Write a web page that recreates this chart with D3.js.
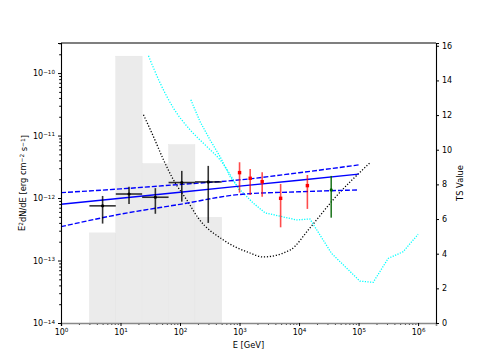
<!DOCTYPE html>
<html>
<head>
<meta charset="utf-8">
<script src="https://cdn.jsdelivr.net/npm/d3@7"></script>
<style>
  body { margin: 0; background: #fff; }
  text { font-family: "DejaVu Sans", sans-serif; fill: #000; }
</style>
</head>
<body>
<div id="container"></div>
<script>
// TS histogram (right axis), bin edges in GeV
var tsEdges = [3, 8.33, 23.1, 64.2, 178, 500];
var tsValues = [5.2, 15.4, 9.2, 10.3, 6.1];

// black points (binned spectrum), x error = bin edges
var latE = [5.0, 13.9, 38.5, 107, 298];
var latFlux = [7.5e-13, 1.16e-12, 1.03e-12, 1.77e-12, 1.81e-12];
var latHi = [1.08e-12, 1.52e-12, 1.44e-12, 2.72e-12, 3.27e-12];
var latLo = [3.9e-13, 8.0e-13, 5.6e-13, 8.75e-13, 4.0e-13];

// red points
var redE = [1000, 1510, 2400, 4900, 13800];
var redFlux = [2.55e-12, 2.07e-12, 1.83e-12, 9.9e-13, 1.58e-12];
var redHi = [3.74e-12, 2.92e-12, 2.59e-12, 1.68e-12, 2.34e-12];
var redLo = [1.22e-12, 1.12e-12, 1.05e-12, 3.4e-13, 6.7e-13];

// green point
var greenE = [34700];
var greenFlux = [1.35e-12];
var greenHi = [2.26e-12];
var greenLo = [4.85e-13];

// power-law fit and its band
var fitE = [1, 10, 100, 1e3, 1e4, 1e5];
var fitFlux = [7.96e-13, 9.93e-13, 1.24e-12, 1.55e-12, 1.93e-12, 2.41e-12];
var fitUpper = [1.22e-12, 1.4e-12, 1.65e-12, 1.95e-12, 2.54e-12, 3.39e-12];
var fitLower = [3.48e-13, 5.52e-13, 7.93e-13, 1.14e-12, 1.26e-12, 1.35e-12];

// black dotted curve
var blackE = [24.3, 35.8, 52.8, 77.6, 130, 204, 535, 1500, 2480, 7030, 15200, 37100, 155000];
var blackFlux = [2.15e-11, 9.6e-12, 4.08e-12, 1.95e-12, 9.3e-13, 4.74e-13, 2.13e-13, 1.32e-13, 1.14e-13, 1.47e-13, 3.32e-13, 9.3e-13, 3.66e-12];

// cyan curves
var cyanAE = [29.5, 46.4, 77.5, 148, 282, 471, 1020];
var cyanAFlux = [1.89e-10, 6.9e-11, 2.75e-11, 1.23e-11, 6.67e-12, 4.08e-12, 1.27e-12];
var cyanBE = [152, 217, 320, 471, 693, 1020, 1700, 2680, 9120, 15200, 35200, 105000, 176000, 314000, 560000, 1.0e6];
var cyanBFlux = [3.73e-11, 1.67e-11, 8.5e-12, 4.6e-12, 2.2e-12, 1.35e-12, 8.3e-13, 5.8e-13, 4.46e-13, 4.62e-13, 1.3e-13, 4.69e-14, 4.47e-14, 1.08e-13, 1.38e-13, 2.63e-13];

var xTicks = [1, 10, 100, 1e3, 1e4, 1e5, 1e6];
var yTicks = [1e-14, 1e-13, 1e-12, 1e-11, 1e-10];
var tsTicks = [0, 2, 4, 6, 8, 10, 12, 14, 16];

// set the dimensions and margins of the graph
var margin = { top: 43, right: 49, bottom: 40, left: 61 },
  width = 485 - margin.left - margin.right,
  height = 363 - margin.top - margin.bottom;

var svg = d3
  .select("#container")
  .append("svg")
  .attr("width", width + margin.left + margin.right)
  .attr("height", height + margin.top + margin.bottom)
  .append("g")
  .attr("transform", "translate(" + margin.left + "," + margin.top + ")");

var x = d3.scaleLog().domain([1, 2.0e6]).range([0, width]);
var y = d3.scaleLog().domain([1e-14, 3.03e-10]).range([height, 0]);
var ts = d3.scaleLinear().domain([0, 16.16]).range([height, 0]);

// TS bars
svg
  .selectAll(".tsbar")
  .data(tsValues)
  .enter()
  .append("rect")
  .attr("x", function (d, i) { return x(tsEdges[i]); })
  .attr("width", function (d, i) { return x(tsEdges[i + 1]) - x(tsEdges[i]); })
  .attr("y", function (d) { return ts(d); })
  .attr("height", function (d) { return height - ts(d); })
  .attr("fill", "#ebebeb")
  .attr("stroke", "#e4e4e4")
  .attr("stroke-width", 0.4);

var line = d3
  .line()
  .x(function (d) { return x(d[0]); })
  .y(function (d) { return y(d[1]); });

function pairs(a, b) {
  return a.map(function (v, i) { return [v, b[i]]; });
}

function drawCurve(e, f, color, dash, w, curve) {
  svg
    .append("path")
    .datum(pairs(e, f))
    .attr("fill", "none")
    .attr("stroke", color)
    .attr("stroke-width", w)
    .attr("stroke-dasharray", dash)
    .attr("d", line.curve(curve || d3.curveLinear));
}

drawCurve(blackE, blackFlux, "#000", "1.2,1.8", 1.3, d3.curveMonotoneX);
drawCurve(cyanAE, cyanAFlux, "#00ffff", "1.2,1.6", 1.3, d3.curveMonotoneX);
drawCurve(cyanBE, cyanBFlux, "#00ffff", "1.2,1.4", 1.3);

// fit line and band
drawCurve(fitE, fitUpper, "#0000ff", "5,2", 1.4, d3.curveMonotoneX);
drawCurve(fitE, fitLower, "#0000ff", "5,2", 1.4, d3.curveMonotoneX);
drawCurve(fitE, fitFlux, "#0000ff", null, 1.4);

// error bar points
function drawPoints(e, f, hi, lo, color, opacity, marker, xlo, xhi) {
  var g = svg.append("g");
  e.forEach(function (v, i) {
    g.append("line")
      .attr("x1", x(v)).attr("x2", x(v))
      .attr("y1", y(hi[i])).attr("y2", y(lo[i]))
      .attr("stroke", color)
      .attr("stroke-opacity", opacity)
      .attr("stroke-width", 1.6);
    if (xlo) {
      g.append("line")
        .attr("x1", x(xlo[i])).attr("x2", x(xhi[i]))
        .attr("y1", y(f[i])).attr("y2", y(f[i]))
        .attr("stroke", color)
        .attr("stroke-opacity", opacity)
        .attr("stroke-width", 1.6);
    }
    if (marker == "square") {
      g.append("rect")
        .attr("x", x(v) - 1.7).attr("y", y(f[i]) - 1.7)
        .attr("width", 3.4).attr("height", 3.4)
        .attr("fill", color);
    } else {
      g.append("circle")
        .attr("cx", x(v)).attr("cy", y(f[i]))
        .attr("r", 1.6)
        .attr("fill", color);
    }
  });
}

drawPoints(latE, latFlux, latHi, latLo, "#000", 0.8, "dot", tsEdges.slice(0, 5), tsEdges.slice(1));
drawPoints(redE, redFlux, redHi, redLo, "#ff0000", 0.7, "square");
drawPoints(greenE, greenFlux, greenHi, greenLo, "#006400", 0.85, "dot");

// superscript labels like 10^-12
function powLabel(sel, exp) {
  sel.text("");
  sel.append("tspan").text("10");
  sel.append("tspan")
    .attr("dy", "-0.45em")
    .attr("font-size", "5.6px")
    .text(String(exp).replace("-", "\u2212"));
}

// bottom x axis
var xMinor = [];
for (var p = 0; p < 7; p++) {
  for (var k = 2; k < 10; k++) {
    var v = k * Math.pow(10, p);
    if (v < 2.0e6) xMinor.push(v);
  }
}
svg
  .append("g")
  .attr("transform", "translate(0," + height + ")")
  .call(d3.axisBottom(x).tickValues(xMinor).tickSize(1.8).tickFormat(""))
  .call(function (g) { g.select(".domain").remove(); });
var xAxis = svg
  .append("g")
  .attr("transform", "translate(0," + height + ")")
  .call(d3.axisBottom(x).tickValues(xTicks).tickSize(3).tickPadding(3))
  .attr("font-size", "8px");
xAxis.select(".domain").attr("stroke", "#888").attr("stroke-width", 1.6);
xAxis.selectAll(".tick text").each(function (d) {
  powLabel(d3.select(this), Math.round(Math.log10(d)));
});

// left y axis
var yMinor = [];
for (var p = -14; p < -9; p++) {
  for (var k = 2; k < 10; k++) {
    var v = k * Math.pow(10, p);
    if (v < 3.03e-10) yMinor.push(v);
  }
}
svg
  .append("g")
  .call(d3.axisLeft(y).tickValues(yMinor).tickSize(1.8).tickFormat(""))
  .call(function (g) { g.select(".domain").remove(); });
var yAxis = svg
  .append("g")
  .call(d3.axisLeft(y).tickValues(yTicks).tickSize(3).tickPadding(3))
  .attr("font-size", "8px");
yAxis.select(".domain").attr("stroke-width", 1.1);
yAxis.selectAll(".tick text").each(function (d) {
  powLabel(d3.select(this), Math.round(Math.log10(d)));
});

// right TS axis
svg
  .append("g")
  .attr("transform", "translate(" + width + ",0)")
  .call(d3.axisRight(ts).tickValues(tsTicks).tickSize(3).tickPadding(3))
  .attr("font-size", "8px")
  .select(".domain")
  .attr("stroke-width", 1.1);

// top spine
svg
  .append("line")
  .attr("x1", 0).attr("x2", width)
  .attr("y1", 0).attr("y2", 0)
  .attr("stroke", "#000")
  .attr("stroke-width", 1.1);

// axis labels
svg
  .append("text")
  .attr("text-anchor", "middle")
  .attr("x", width / 2)
  .attr("y", height + 25)
  .attr("font-size", "8.3px")
  .text("E [GeV]");

var yl = svg
  .append("text")
  .attr("text-anchor", "middle")
  .attr("transform", "translate(" + (-36) + "," + height / 2 + ") rotate(-90)")
  .attr("font-size", "8.3px");
yl.append("tspan").text("E");
yl.append("tspan").attr("dy", "-0.4em").attr("font-size", "5.8px").text("2");
yl.append("tspan").attr("dy", "0.4em").text("dN/dE [erg cm");
yl.append("tspan").attr("dy", "-0.4em").attr("font-size", "5.8px").text("\u22122");
yl.append("tspan").attr("dy", "0.4em").text(" s");
yl.append("tspan").attr("dy", "-0.4em").attr("font-size", "5.8px").text("\u22121");
yl.append("tspan").attr("dy", "0.4em").text("]");

svg
  .append("text")
  .attr("text-anchor", "middle")
  .attr("transform", "translate(" + (width + 27) + "," + height / 2 + ") rotate(-90)")
  .attr("font-size", "8.3px")
  .text("TS Value");
</script>
</body>
</html>
